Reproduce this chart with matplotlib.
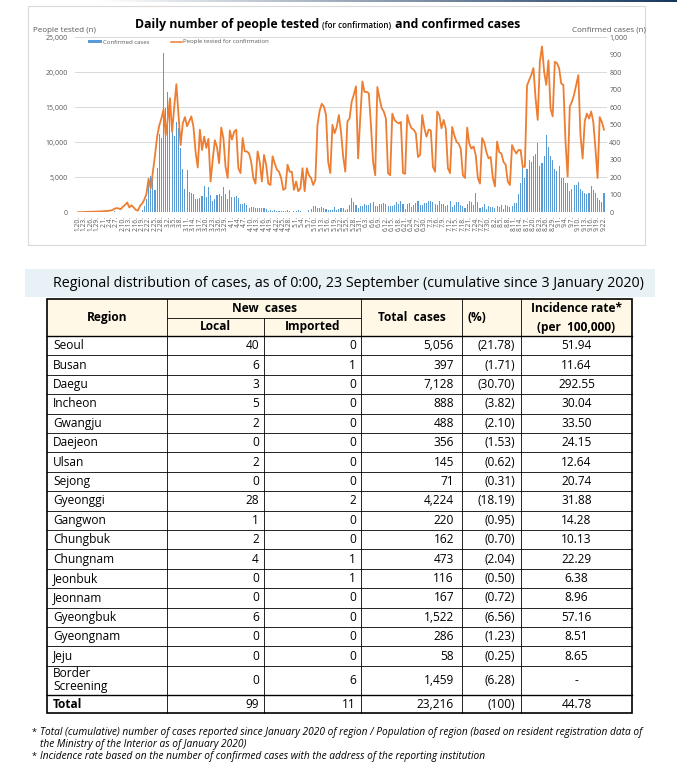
import matplotlib
matplotlib.use("Agg")
import matplotlib.pyplot as plt
from matplotlib.patches import Rectangle
from matplotlib.lines import Line2D
from matplotlib.colors import LinearSegmentedColormap
import numpy as np
import pandas as pd

plt.rcParams['font.family'] = ['Open Sans', 'DejaVu Sans']

# ---- daily series, 20 Jan - 22 Sep 2020 ----
tested_jan = [10, 20, 20, 30, 40, 50, 60, 80, 90, 100, 120, 130]
tested_feb = [150, 170, 200, 250, 300, 500, 600, 550, 450, 800, 1050, 1400, 700, 1000, 700,
              350, 250, 900, 1250, 1800, 2600, 4800, 3400, 5800, 8100, 10800, 12400, 13400, 14700]
tested_mar = [11000, 13400, 16300, 11500, 15000, 18300, 14000, 9600, 12700, 13600, 12300, 13000,
              13700, 12200, 8600, 6400, 11800, 8900, 10800, 9200, 10500, 4400, 7500, 10300, 9300,
              7000, 12100, 10600, 6500, 4900, 11700]
tested_apr = [10400, 11500, 11800, 6300, 5600, 10600, 8700, 8700, 8400, 7200, 4900, 4100, 8700,
              7200, 4400, 8200, 6800, 4100, 3900, 8000, 7000, 6100, 5800, 4900, 3200, 3400, 6800,
              5800, 5800, 3200]
tested_may = [4400, 3000, 3400, 6300, 3000, 6300, 5300, 4900, 3900, 4600, 12500, 14500, 15500,
              15100, 13900, 7200, 5600, 12500, 11300, 12200, 13900, 11500, 8000, 5800, 13000,
              13400, 15800, 16800, 18000, 7700, 13500]
tested_jun = [18700, 17200, 17200, 17000, 12500, 7200, 5300, 17900, 16300, 14900, 14400, 13400,
              5600, 5300, 14100, 13200, 12900, 12700, 12900, 5600, 5500, 13900, 12700, 12000,
              11800, 11300, 7900, 8200, 13900, 12000]
tested_jul = [10800, 11800, 11700, 6500, 5800, 14400, 13900, 12000, 13200, 12000, 6300, 5600,
              12200, 11000, 10100, 9800, 9100, 5300, 4900, 12100, 9800, 9100, 9400, 8200, 4900,
              4100, 10600, 10000, 8600, 7700, 7900]
tested_aug = [4900, 3700, 10100, 8600, 8400, 7200, 6800, 4400, 3900, 9600, 8900, 8400, 8900, 8900,
              6500, 6500, 18100, 18900, 19600, 20600, 16300, 13200, 21500, 23700, 20100, 18200,
              21700, 14800, 13700, 21500, 21300]
tested_sep = [20600, 18400, 18200, 10100, 5100, 15100, 15800, 16800, 18200, 19600, 11000, 7700,
              13000, 14100, 13400, 14400, 12900, 9100, 4900, 13600, 12900, 11800]

confirmed_jan = [1, 0, 0, 0, 1, 0, 1, 1, 0, 0, 2, 5]
confirmed_feb = [1, 3, 0, 1, 2, 5, 1, 0, 3, 0, 1, 0, 0, 0, 0, 1, 1, 1, 15, 34, 74, 190, 210, 207,
                 130, 253, 449, 427, 909]
confirmed_mar = [595, 686, 600, 516, 438, 518, 483, 367, 248, 131, 242, 114, 110, 107, 76, 74, 84,
                 93, 152, 87, 147, 98, 64, 76, 100, 104, 91, 146, 105, 78, 125]
confirmed_apr = [89, 86, 94, 81, 47, 47, 53, 39, 27, 30, 32, 25, 27, 27, 22, 22, 18, 8, 13, 9, 11,
                 8, 6, 10, 10, 10, 14, 9, 4, 9]
confirmed_may = [6, 13, 8, 3, 2, 4, 12, 18, 34, 35, 27, 26, 29, 27, 19, 13, 15, 13, 32, 12, 20, 23,
                 25, 16, 19, 40, 79, 58, 39, 27, 35]
confirmed_jun = [38, 49, 39, 39, 51, 57, 38, 38, 50, 45, 56, 49, 34, 37, 34, 43, 59, 49, 67, 48, 17,
                 46, 51, 28, 39, 51, 62, 42, 43, 51]
confirmed_jul = [54, 63, 63, 61, 48, 44, 62, 50, 45, 35, 44, 62, 33, 39, 61, 60, 39, 34, 26, 45, 63,
                 59, 41, 113, 58, 25, 28, 48, 18, 36, 31]
confirmed_aug = [30, 23, 34, 33, 43, 20, 43, 36, 28, 34, 54, 56, 103, 166, 279, 197, 246, 297, 288,
                 324, 332, 397, 266, 280, 320, 441, 371, 323, 299, 248, 235]
confirmed_sep = [267, 195, 198, 168, 167, 119, 136, 156, 155, 176, 136, 121, 109, 106, 113, 153,
                 126, 110, 82, 70, 61, 110]

tested_ticks = [0, 5000, 10000, 15000, 20000, 25000]
confirmed_ticks = [0, 100, 200, 300, 400, 500, 600, 700, 800, 900, 1000]

# ---- regional table ----
regions = ["Seoul", "Busan", "Daegu", "Incheon", "Gwangju", "Daejeon", "Ulsan", "Sejong",
           "Gyeonggi", "Gangwon", "Chungbuk", "Chungnam", "Jeonbuk", "Jeonnam", "Gyeongbuk",
           "Gyeongnam", "Jeju", "Border\nScreening", "Total"]
local_cases = ["40", "6", "3", "5", "2", "0", "2", "0", "28", "1", "2", "4", "0", "0", "6", "0",
               "0", "0", "99"]
imported_cases = ["0", "1", "0", "0", "0", "0", "0", "0", "2", "0", "0", "1", "1", "0", "0", "0",
                  "0", "6", "11"]
total_cases = ["5,056", "397", "7,128", "888", "488", "356", "145", "71", "4,224", "220", "162",
               "473", "116", "167", "1,522", "286", "58", "1,459", "23,216"]
share_pct = ["(21.78)", "(1.71)", "(30.70)", "(3.82)", "(2.10)", "(1.53)", "(0.62)", "(0.31)",
             "(18.19)", "(0.95)", "(0.70)", "(2.04)", "(0.50)", "(0.72)", "(6.56)", "(1.23)",
             "(0.25)", "(6.28)", "(100)"]
incidence = ["51.94", "11.64", "292.55", "30.04", "33.50", "24.15", "12.64", "20.74", "31.88",
             "14.28", "10.13", "22.29", "6.38", "8.96", "57.16", "8.51", "8.65", "-", "44.78"]

W, H = 677, 776
fig = plt.figure(figsize=(W / 100, H / 100), dpi=100)


def box(x0, y0, x1, y1):
    # pixel box (top-left origin) -> figure fraction rect
    return [x0 / W, 1 - y1 / H, (x1 - x0) / W, (y1 - y0) / H]


dates = pd.date_range("2020-01-20", "2020-09-22", freq="D")
tested = np.array(tested_jan + tested_feb + tested_mar + tested_apr + tested_may + tested_jun
                  + tested_jul + tested_aug + tested_sep)
confirmed = np.array(confirmed_jan + confirmed_feb + confirmed_mar + confirmed_apr + confirmed_may
                     + confirmed_jun + confirmed_jul + confirmed_aug + confirmed_sep)
x = np.arange(len(dates))

grey = '#595959'
ax = fig.add_axes(box(74.8, 37.3, 607.2, 212.3))
ax2 = ax.twinx()
ax2.bar(x, confirmed, width=0.5, color='#5B9BD5', linewidth=0, zorder=2)
for t in tested_ticks:
    ax2.axhline(t * confirmed_ticks[-1] / tested_ticks[-1], color='#D9D9D9', lw=0.7, zorder=0)
ax.plot(x, tested, color='#ED7D31', lw=1.3)
ax.set_zorder(ax2.get_zorder() + 1)
ax.patch.set_visible(False)

ax.set_xlim(-1.5, len(x) + 0.5)
ax.set_ylim(0, tested_ticks[-1])
ax2.set_ylim(0, confirmed_ticks[-1])
ax.set_yticks(tested_ticks)
ax.set_yticklabels([f"{t:,}" for t in tested_ticks])
ax2.set_yticks(confirmed_ticks)
ax2.set_yticklabels([f"{t:,}" for t in confirmed_ticks])
ax.set_xticks(x[::3])
ax.set_xticklabels([f"{d.month}.{d.day}." for d in dates[::3]], rotation=90)
ax.tick_params(axis='y', length=0, pad=5, labelsize=5, labelcolor=grey)
ax.tick_params(axis='x', length=0, pad=2.5, labelsize=4.8, labelcolor=grey)
ax2.tick_params(axis='y', length=0, pad=1.5, labelsize=5, labelcolor=grey)
for a in (ax, ax2):
    for s in a.spines.values():
        s.set_visible(False)

# overlay in pixel coordinates for titles, legend, table and notes
ov = fig.add_axes([0, 0, 1, 1])
ov.set_xlim(0, W)
ov.set_ylim(H, 0)
ov.axis('off')
ov.patch.set_visible(False)

grad = LinearSegmentedColormap.from_list('strip', ['#FFFFFF', '#17375E'])
ov.imshow(np.linspace(0, 1, 256)[None, :], extent=[100, W, 2.5, 0], cmap=grad, aspect='auto')
ov.add_patch(Rectangle((28, 6), 617, 239, fill=False, edgecolor='#D9D9D9', lw=0.8))

t1 = ov.text(135, 31, "Daily number of people tested ", fontsize=8.8, fontweight='bold',
             va='bottom', color='#000000')
t2 = ov.annotate("(for confirmation)", xy=(1, 0), xycoords=t1, va='bottom', fontsize=5.8,
                 fontweight='semibold', xytext=(0, 0.7), textcoords='offset points')
ov.annotate(" and confirmed cases", xy=(1, 0), xycoords=t2, va='bottom', fontsize=8.8,
            fontweight='bold', xytext=(0, -0.7), textcoords='offset points')
ov.text(33, 30, "People tested (n)", fontsize=5.8, color=grey, va='center')
ov.text(646, 30, "Confirmed cases (n)", fontsize=5.8, color=grey, va='center', ha='right')

# legend
ov.add_patch(Rectangle((88, 40.3), 14, 3.2, color='#5B9BD5', lw=0))
ov.text(103, 42, "Confirmed cases", fontsize=4.3, color=grey, va='center')
ov.add_line(Line2D([171, 182], [42, 42], color='#ED7D31', lw=1.1))
ov.text(183, 42, "People tested for confirmation", fontsize=4.3, color=grey, va='center')

# table title band
ov.add_patch(Rectangle((25, 269), 630, 28, color='#E8F2F6', lw=0))
ov.text(348, 283.5, "Regional distribution of cases, as of 0:00, 23 September "
        "(cumulative since 3 January 2020)", fontsize=10.3, ha='center', va='center')

# table grid
col_x = [47, 167, 264, 361, 462, 521, 632]
head_top, head_mid, head_bot = 299, 317.5, 336
row_h = 19.4
row_tops = [head_bot + i * row_h for i in range(17)]
row_tops.append(row_tops[-1] + row_h)           # border screening row
row_tops.append(row_tops[-1] + 29)              # total row
table_bot = row_tops[-1] + 18.5
row_bots = row_tops[1:] + [table_bot]

ov.add_patch(Rectangle((col_x[0], head_top), col_x[-1] - col_x[0], head_bot - head_top,
                       color='#FFF8E6', lw=0))
for y in row_tops[1:]:
    lw = 1.0 if y == row_tops[-1] else 0.6
    ov.add_line(Line2D([col_x[0], col_x[-1]], [y, y], color='black', lw=lw))
ov.add_line(Line2D([col_x[0], col_x[-1]], [head_bot, head_bot], color='black', lw=1.0))
ov.add_line(Line2D([col_x[1], col_x[3]], [head_mid, head_mid], color='black', lw=0.6))
for cx in col_x[1:-1]:
    top = head_mid if cx == col_x[2] else head_top
    ov.add_line(Line2D([cx, cx], [top, table_bot], color='black', lw=0.6))
ov.add_patch(Rectangle((col_x[0], head_top), col_x[-1] - col_x[0], table_bot - head_top,
                       fill=False, edgecolor='black', lw=1.2))

fs = 8.6
hy = (head_top + head_bot) / 2
ov.text((col_x[0] + col_x[1]) / 2, hy, "Region", fontsize=fs, fontweight='bold',
        ha='center', va='center')
ov.text((col_x[1] + col_x[3]) / 2, (head_top + head_mid) / 2, "New  cases", fontsize=fs,
        fontweight='bold', ha='center', va='center')
ov.text((col_x[1] + col_x[2]) / 2, (head_mid + head_bot) / 2, "Local", fontsize=fs,
        fontweight='bold', ha='center', va='center')
ov.text((col_x[2] + col_x[3]) / 2, (head_mid + head_bot) / 2, "Imported", fontsize=fs,
        fontweight='bold', ha='center', va='center')
ov.text((col_x[3] + col_x[4]) / 2, hy, "Total  cases", fontsize=fs, fontweight='bold',
        ha='center', va='center')
ov.text(col_x[4] + 5, hy, "(%)", fontsize=fs, fontweight='bold', ha='left', va='center')
ov.text((col_x[5] + col_x[6]) / 2, (head_top + head_mid) / 2, "Incidence rate*", fontsize=fs,
        fontweight='bold', ha='center', va='center')
ov.text((col_x[5] + col_x[6]) / 2, (head_mid + head_bot) / 2 + 0.5, "(per  100,000)", fontsize=fs,
        fontweight='bold', ha='center', va='center')

for i, name in enumerate(regions):
    cy = (row_tops[i] + row_bots[i]) / 2
    bold = 'bold' if name == "Total" else 'normal'
    ov.text(col_x[0] + 6, cy, name, fontsize=fs, fontweight=bold, ha='left', va='center',
            linespacing=1.0)
    ov.text(col_x[2] - 5, cy, local_cases[i], fontsize=fs, ha='right', va='center')
    ov.text(col_x[3] - 5, cy, imported_cases[i], fontsize=fs, ha='right', va='center')
    ov.text(col_x[4] - 8, cy, total_cases[i], fontsize=fs, ha='right', va='center')
    ov.text(col_x[5] - 6, cy, share_pct[i], fontsize=fs, ha='right', va='center')
    ov.text((col_x[5] + col_x[6]) / 2, cy, incidence[i], fontsize=fs, ha='center', va='center')

# notes
note_fs = 7.3
ov.text(32, 732, "*", fontsize=note_fs - 0.8, va='center')
ov.text(40, 733, "Total (cumulative) number of cases reported since January 2020 of region / "
        "Population of region (based on resident registration data of", fontsize=note_fs,
        style='italic', va='center')
ov.text(40, 745, "the Ministry of the Interior as of January 2020)", fontsize=note_fs,
        style='italic', va='center')
ov.text(32, 756, "*", fontsize=note_fs - 0.8, va='center')
ov.text(40, 757, "Incidence rate based on the number of confirmed cases with the address of the "
        "reporting institution", fontsize=note_fs, style='italic', va='center')

fig.savefig("out.png", dpi=100)
